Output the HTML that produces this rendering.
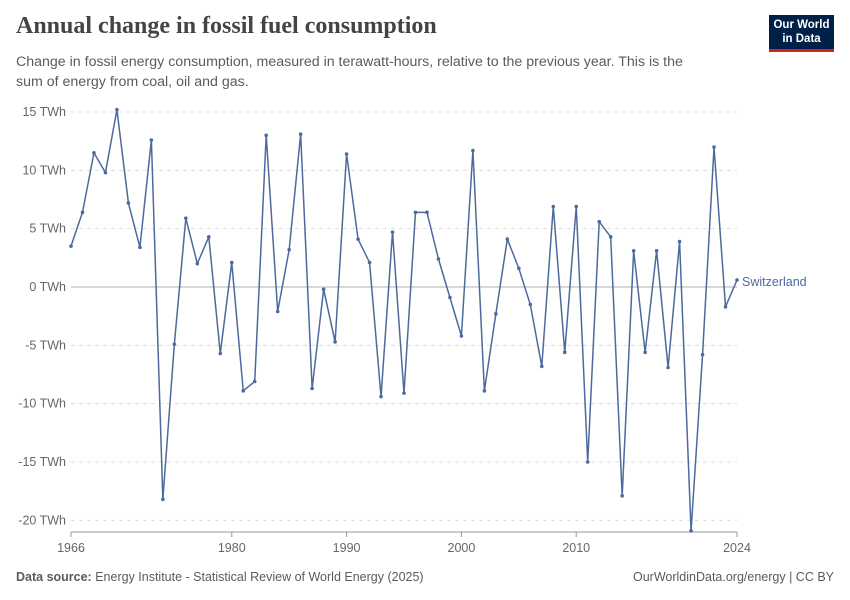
<!DOCTYPE html>
<html><head><meta charset="utf-8"><style>
body{margin:0;background:#fff;font-family:"Liberation Sans",sans-serif;}
#wrap{position:relative;width:850px;height:600px;overflow:hidden}
h1{position:absolute;left:16px;top:13px;margin:0;font-family:"Liberation Serif",serif;font-size:24px;font-weight:bold;color:#444;letter-spacing:0}
.sub{position:absolute;left:16px;top:52px;width:688px;font-size:14.2px;line-height:20px;color:#5b5b5b}
.logo{position:absolute;left:769px;top:15px;width:65px;height:37px;background:#002147;border-bottom:3px solid #ce261e;color:#fff;font-size:11.5px;font-weight:bold;text-align:center;line-height:14px;padding-top:3px;box-sizing:border-box}
.foot{position:absolute;top:570px;font-size:12.5px;color:#5b5b5b}
</style></head><body><div id="wrap">
<h1>Annual change in fossil fuel consumption</h1>
<div class="sub">Change in fossil energy consumption, measured in terawatt-hours, relative to the previous year. This is the sum of energy from coal, oil and gas.</div>
<div class="logo">Our World<br>in Data</div>
<svg id="chart" width="850" height="600" style="position:absolute;left:0;top:0"></svg>
<div class="foot" style="left:16px"><b>Data source:</b> Energy Institute - Statistical Review of World Energy (2025)</div>
<div class="foot" style="right:16px">OurWorldinData.org/energy | CC BY</div>
</div>
<script>
const years=[];for(let y=1966;y<=2024;y++)years.push(y);
const values=[3.5,6.4,11.5,9.8,15.2,7.2,3.4,12.6,-18.2,-4.9,5.9,2.0,4.3,-5.7,2.1,-8.9,-8.1,13.0,-2.1,3.2,13.1,-8.7,-0.2,-4.7,11.4,4.1,2.1,-9.4,4.7,-9.1,6.4,6.4,2.4,-0.9,-4.2,11.7,-8.9,-2.3,4.1,1.6,-1.5,-6.8,6.9,-5.6,6.9,-15.0,5.6,4.3,-17.9,3.1,-5.6,3.1,-6.9,3.9,-20.9,-5.8,12.0,-1.7,0.6];
const yTicks=[15,10,5,0,-5,-10,-15,-20];
const xTicks=[1966,1980,1990,2000,2010,2024];
const NS="http://www.w3.org/2000/svg";
const svg=document.getElementById('chart');
const x=v=>71+(v-1966)*(737-71)/58;
const y=v=>287-v*(287-112)/15;
function el(t,a){const e=document.createElementNS(NS,t);for(const k in a)e.setAttribute(k,a[k]);svg.appendChild(e);return e;}
yTicks.forEach(t=>{
 const g=el('line',{x1:71,x2:737,y1:y(t),y2:y(t),stroke:t===0?'#b0b0b0':'#ddd','stroke-dasharray':t===0?'':'4,4'});
 
 
 const l=el('text',{x:66,y:y(t)+4,'text-anchor':'end','font-size':12.5,fill:'#666'});
 l.textContent=t+' TWh';
 
 
});
const ax=el('line',{x1:71,x2:737,y1:532,y2:532,stroke:'#999'});


xTicks.forEach(t=>{
 const tk=el('line',{x1:x(t),x2:x(t),y1:532,y2:537,stroke:'#999'});
 
 
 const l=el('text',{x:x(t),y:552,'text-anchor':'middle','font-size':12.5,fill:'#666'});
 l.textContent=t;
 
 
});
const p=el('polyline',{points:years.map((yr,i)=>x(yr)+','+y(values[i])).join(' '),fill:'none',stroke:'#4c6a9c','stroke-width':1.5});


years.forEach((yr,i)=>{
 const c=el('circle',{cx:x(yr),cy:y(values[i]),r:1.8,fill:'#4c6a9c'});
 
 
});
const lab=el('text',{x:742,y:y(values[values.length-1])+6,'font-size':12.5,fill:'#4c6a9c'});
lab.textContent='Switzerland';


</script></body></html>
